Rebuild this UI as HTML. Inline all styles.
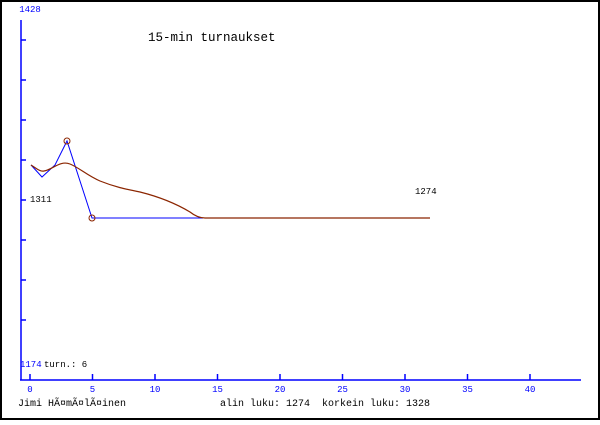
<!DOCTYPE html>
<html><head><style>
body{margin:0;width:600px;height:420px;background:#fff;overflow:hidden}
</style></head><body>
<svg width="600" height="420" xmlns="http://www.w3.org/2000/svg" font-family="Liberation Mono, DejaVu Sans Mono, monospace">
<rect x="1" y="1" width="598" height="418" fill="#fff" stroke="#000" stroke-width="2"/>
<g stroke="#00f" stroke-width="1.5">
<line x1="21" y1="20" x2="21" y2="380"/>
<line x1="20" y1="380" x2="581" y2="380"/>
<line x1="21" y1="40" x2="26" y2="40"/><line x1="21" y1="80" x2="26" y2="80"/>
<line x1="21" y1="120" x2="26" y2="120"/><line x1="21" y1="160" x2="26" y2="160"/>
<line x1="21" y1="200" x2="26" y2="200"/><line x1="21" y1="240" x2="26" y2="240"/>
<line x1="21" y1="280" x2="26" y2="280"/><line x1="21" y1="320" x2="26" y2="320"/>
<line x1="30" y1="374" x2="30" y2="380"/><line x1="92.5" y1="374" x2="92.5" y2="380"/>
<line x1="155" y1="374" x2="155" y2="380"/><line x1="217.5" y1="374" x2="217.5" y2="380"/>
<line x1="280" y1="374" x2="280" y2="380"/><line x1="342.5" y1="374" x2="342.5" y2="380"/>
<line x1="405" y1="374" x2="405" y2="380"/><line x1="467.5" y1="374" x2="467.5" y2="380"/>
<line x1="530" y1="374" x2="530" y2="380"/>
</g>
<g fill="#00f" font-size="9" text-anchor="middle">
<text x="30" y="392">0</text><text x="92.5" y="392">5</text><text x="155" y="392">10</text>
<text x="217.5" y="392">15</text><text x="280" y="392">20</text><text x="342.5" y="392">25</text>
<text x="405" y="392">30</text><text x="467.5" y="392">35</text><text x="530" y="392">40</text>
<text x="30" y="12">1428</text>
</g>
<text x="20" y="367" fill="#00f" font-size="9">1174</text>
<text x="44" y="367" fill="#000" font-size="9">turn.: 6</text>
<text x="30" y="202" fill="#000" font-size="9">1311</text>
<text x="415" y="194" fill="#000" font-size="9">1274</text>
<text x="148" y="41" fill="#000" font-size="12.5">15-min turnaukset</text>
<text x="18" y="406" fill="#000" font-size="10">Jimi HÃ¤mÃ¤lÃ¤inen</text>
<text x="220" y="406" fill="#000" font-size="10" xml:space="preserve">alin luku: 1274  korkein luku: 1328</text>
<polyline fill="none" stroke="#00f" stroke-width="1" points="31,165 42,177 55,165 67,141 92,218 203,218"/>
<path fill="none" stroke="#8b2500" stroke-width="1.2" d="M31,165 C36,168 40,172 44,171 C52,170 60,160 70,164 C78,167 88,176 100,181 C115,187 125,189 140,192 C160,197 175,203 190,212 C195,216 200,218 205,218 L430,218"/>
<circle cx="67" cy="141" r="3" fill="none" stroke="#8b2500"/>
<circle cx="92" cy="218" r="3" fill="none" stroke="#8b2500"/>
</svg>
</body></html>
